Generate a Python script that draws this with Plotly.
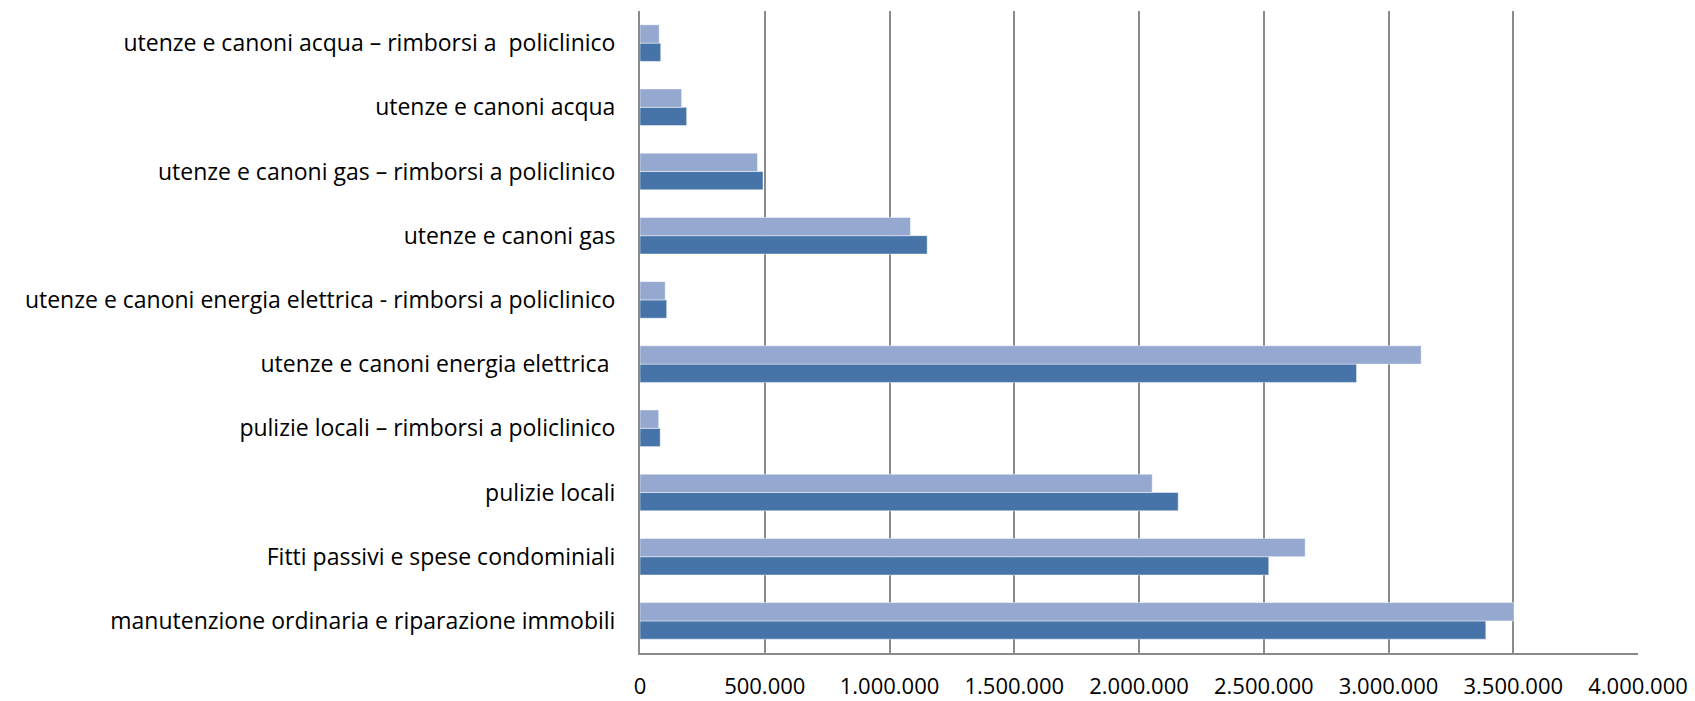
import plotly.graph_objects as go

# Categories listed bottom-to-top
categories = [
    "manutenzione ordinaria e riparazione immobili",
    "Fitti passivi e spese condominiali",
    "pulizie locali",
    "pulizie locali – rimborsi a policlinico",
    "utenze e canoni energia elettrica ",
    "utenze e canoni energia elettrica - rimborsi a policlinico",
    "utenze e canoni gas",
    "utenze e canoni gas – rimborsi a policlinico",
    "utenze e canoni acqua",
    "utenze e canoni acqua – rimborsi a  policlinico",
]

# dark series (lower bar of each pair)
series_dark = [3390000, 2520000, 2157000, 81000, 2872000, 107000, 1151000, 493000, 187000, 83000]
# light series (upper bar of each pair)
series_light = [3503000, 2666000, 2053000, 75000, 3131000, 101000, 1084000, 471000, 167000, 77000]

x_ticks = [0, 500000, 1000000, 1500000, 2000000, 2500000, 3000000, 3500000, 4000000]

FONT = "Open Sans"

fig = go.Figure()
fig.add_trace(go.Bar(
    y=categories, x=series_dark, orientation="h", name="dark",
    marker=dict(color="#4673A8", line=dict(color="rgba(255,255,255,0.45)", width=1)),
))
fig.add_trace(go.Bar(
    y=categories, x=series_light, orientation="h", name="light",
    marker=dict(color="#95A9D0", line=dict(color="rgba(255,255,255,0.45)", width=1)),
))

fig.update_layout(
    width=1695, height=701,
    margin=dict(l=640, r=57, t=11, b=48, autoexpand=False),
    paper_bgcolor="white", plot_bgcolor="white",
    barmode="group", bargap=0.43, bargroupgap=0,
    showlegend=False,
    separators=",.",
    font=dict(family=FONT, size=23, color="black"),
)
fig.update_xaxes(
    range=[0, 4000000], tickvals=x_ticks, tickformat=",d",
    showgrid=True, gridcolor="#8a8a8a", gridwidth=1.5,
    showline=True, linecolor="#8a8a8a", linewidth=2,
    zeroline=False, ticks="", ticklabelstandoff=13,
    tickfont=dict(family=FONT, size=22, color="black"),
    automargin=False, fixedrange=True,
)
fig.update_yaxes(
    categoryorder="array", categoryarray=categories,
    showgrid=False, showline=True, linecolor="#8a8a8a", linewidth=2,
    ticks="", ticklabelstandoff=18,
    tickfont=dict(family=FONT, size=23, color="black"),
    automargin=False, fixedrange=True,
)

fig.write_html("out.html")
